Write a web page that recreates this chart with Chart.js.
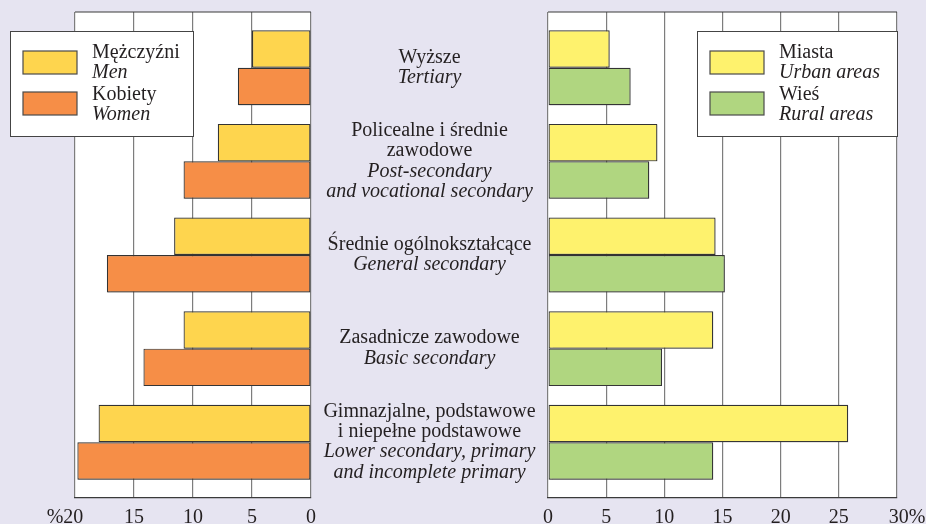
<!DOCTYPE html>
<html>
<head>
<meta charset="utf-8">
<script src="https://cdn.jsdelivr.net/npm/chart.js@4/dist/chart.umd.min.js"></script>
<style>
  html, body { margin: 0; padding: 0; background: #e6e4f1; }
  #wrap { position: relative; width: 926px; height: 524px; overflow: hidden; }
  #leftChart { position: absolute; left: 0; top: 0; }
  #rightChart { position: absolute; left: 540px; top: 0; }
</style>
</head>
<body>
<div id="wrap">
  <canvas id="leftChart" width="540" height="524"></canvas>
  <canvas id="rightChart" width="386" height="524"></canvas>
</div>
<script>
// education levels, Polish lines then English lines
const categoriesPl = [
    ['Wyższe'],
    ['Policealne i średnie', 'zawodowe'],
    ['Średnie ogólnokształcące'],
    ['Zasadnicze zawodowe'],
    ['Gimnazjalne, podstawowe', 'i niepełne podstawowe']
];
const categoriesEn = [
    ['Tertiary'],
    ['Post-secondary', 'and vocational secondary'],
    ['General secondary'],
    ['Basic secondary'],
    ['Lower secondary, primary', 'and incomplete primary']
];

const menValues   = [5.0, 7.9, 11.6, 10.8, 18.0];
const womenValues = [6.2, 10.8, 17.3, 14.2, 19.8];
const urbanValues = [5.3, 9.4, 14.4, 14.2, 25.8];
const ruralValues = [7.1, 8.7, 15.2, 9.8, 14.2];

const leftSeries  = [['Mężczyźni', 'Men'], ['Kobiety', 'Women']];
const rightSeries = [['Miasta', 'Urban areas'], ['Wieś', 'Rural areas']];

const leftMax = 20, rightMax = 30, tickStep = 5;

const serif = '"Liberation Serif", "Times New Roman", serif';
const textColor = '#231f20';
const gridColor = '#7d7d7d';
const frameColor = '#3a3a3a';

// room above the first and below the last group, in category units
const edgeRoom = 0.595;

function points(values) {
    return values.map((v, i) => ({ x: v, y: i }));
}

const panelPlugin = {
    id: 'panel',
    beforeDraw(chart) {
        const { ctx, chartArea: a } = chart;
        ctx.save();
        ctx.fillStyle = '#ffffff';
        ctx.fillRect(a.left, a.top, a.right - a.left, a.bottom - a.top);
        ctx.restore();
    },
    beforeDatasetsDraw(chart) {
        const ctx = chart.ctx;
        ctx.save();
        ctx.shadowColor = 'rgba(60, 60, 60, 0.35)';
        ctx.shadowOffsetX = 1;
        ctx.shadowOffsetY = 1;
        ctx.shadowBlur = 1;
    },
    afterDatasetsDraw(chart) {
        chart.ctx.restore();
    },
    afterDraw(chart, args, opts) {
        const { ctx, chartArea: a } = chart;
        ctx.save();
        ctx.strokeStyle = frameColor;
        ctx.lineWidth = 1.2;
        ctx.beginPath();
        ctx.moveTo(a.left, a.top);
        ctx.lineTo(a.right, a.top);
        ctx.stroke();

        // legend box
        const lg = opts.legend;
        const bx = lg.alignRight ? a.right - lg.width : lg.x;
        const by = lg.y;
        ctx.fillStyle = '#ffffff';
        ctx.fillRect(bx, by, lg.width, lg.height);
        ctx.strokeStyle = '#444';
        ctx.lineWidth = 1;
        ctx.strokeRect(bx + 0.5, by + 0.5, lg.width, lg.height);
        chart.data.datasets.forEach((ds, k) => {
            const sy = by + 20 + k * 41;
            ctx.fillStyle = ds.backgroundColor;
            ctx.fillRect(bx + 13, sy, 54, 23);
            ctx.strokeStyle = '#4a4a4a';
            ctx.lineWidth = 1.2;
            ctx.strokeRect(bx + 13, sy, 54, 23);
            ctx.fillStyle = textColor;
            ctx.textAlign = 'left';
            ctx.textBaseline = 'alphabetic';
            ctx.font = '20px ' + serif;
            ctx.fillText(ds.legendLines[0], bx + 82, by + 27 + k * 42);
            ctx.font = 'italic 20px ' + serif;
            ctx.fillText(ds.legendLines[1], bx + 82, by + 47 + k * 42);
        });

        // category labels between the two panels
        if (opts.categoryLabels) {
            const y = chart.scales.y;
            const cx = a.right + opts.categoryLabels.gap / 2;
            const lh = 20.3;
            ctx.fillStyle = textColor;
            ctx.textAlign = 'center';
            ctx.textBaseline = 'alphabetic';
            categoriesPl.forEach((pl, i) => {
                const lines = pl.map(t => [t, false]).concat(categoriesEn[i].map(t => [t, true]));
                const cy = y.getPixelForValue(i);
                lines.forEach(([t, it], j) => {
                    ctx.font = (it ? 'italic ' : '') + '20px ' + serif;
                    ctx.fillText(t, cx, cy + (j - (lines.length - 1) / 2) * lh + 5);
                });
            });
        }
        ctx.restore();
    }
};

function barDataset(label, values, color) {
    return {
        label: label.join(' / '),
        legendLines: label,
        data: points(values),
        backgroundColor: color,
        borderColor: '#333333',
        borderWidth: 1.2,
        borderSkipped: false,
        categoryPercentage: 0.8,
        barPercentage: 1.0
    };
}

function yScale() {
    return {
        type: 'linear',
        display: false,
        reverse: true,
        offset: false,
        bounds: 'data',
        grid: { offset: false },
        afterDataLimits: (s) => {
            s.min = -edgeRoom;
            s.max = categoriesPl.length - 1 + edgeRoom;
        },
        afterBuildTicks: (s) => {
            s.ticks = categoriesPl.map((c, i) => ({ value: i }));
        }
    };
}

function xScale(max, reverse, fmt) {
    return {
        type: 'linear',
        min: 0,
        max: max,
        reverse: reverse,
        afterFit: (s) => {
            s.height = 26;
            s.paddingLeft = 0;
            s.paddingRight = 0;
        },
        grid: { color: gridColor, lineWidth: 1.2, drawTicks: false },
        border: { color: frameColor, width: 1.2 },
        ticks: {
            stepSize: tickStep,
            autoSkip: false,
            padding: 8,
            color: textColor,
            font: { family: serif, size: 20 },
            maxRotation: 0,
            callback: fmt
        }
    };
}

document.addEventListener('DOMContentLoaded', () => {
    new Chart(document.getElementById('leftChart').getContext('2d'), {
        type: 'bar',
        data: {
            datasets: [
                barDataset(leftSeries[0], menValues, '#fed54e'),
                barDataset(leftSeries[1], womenValues, '#f68e47')
            ]
        },
        options: {
            indexAxis: 'y',
            responsive: false,
            animation: false,
            layout: { padding: { left: 75, right: 229, top: 12, bottom: 0 } },
            scales: {
                x: xScale(leftMax, true, (v) => v === leftMax ? '%' + v + '\u2003' : String(v)),
                y: yScale()
            },
            plugins: {
                legend: { display: false },
                tooltip: { enabled: false },
                panel: {
                    legend: { x: 10, y: 31, width: 183, height: 105, alignRight: false },
                    categoryLabels: { gap: 237 }
                }
            }
        },
        plugins: [panelPlugin]
    });

    new Chart(document.getElementById('rightChart').getContext('2d'), {
        type: 'bar',
        data: {
            datasets: [
                barDataset(rightSeries[0], urbanValues, '#fef26d'),
                barDataset(rightSeries[1], ruralValues, '#b0d680')
            ]
        },
        options: {
            indexAxis: 'y',
            responsive: false,
            animation: false,
            layout: { padding: { left: 8, right: 29, top: 12, bottom: 0 } },
            scales: {
                x: xScale(rightMax, false, (v) => v === rightMax ? '\u2003' + v + '%' : String(v)),
                y: yScale()
            },
            plugins: {
                legend: { display: false },
                tooltip: { enabled: false },
                panel: {
                    legend: { y: 31, width: 200, height: 105, alignRight: true },
                    categoryLabels: false
                }
            }
        },
        plugins: [panelPlugin]
    });
});
</script>
</body>
</html>
